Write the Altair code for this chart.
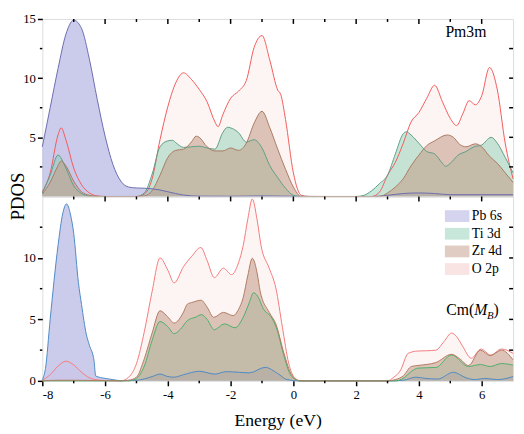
import altair as alt
import pandas as pd

SERIES = ["Pb 6s", "Ti 3d", "Zr 4d", "O 2p"]
FILLS = ["#a9a9e0", "#8fd0b6", "#c29a85", "#f6c8c8"]
FILL_OP = {"Pb 6s": 0.6, "Ti 3d": 0.5, "Zr 4d": 0.55, "O 2p": 0.2}

# ---------------- top panel (Pm3m) ----------------
top_pb_e = [-8.0, -7.75, -7.5, -7.25, -7.0, -6.75, -6.5, -6.25, -6.0, -5.75, -5.5, -5.25, -5.0, -4.75, -4.5,
            -4.25, -4.0, -3.75, -3.5, -3.0, -2.0, -1.0, 0.0, 1.0, 2.5, 3.0, 3.5, 4.0, 4.5, 5.0, 6.0, 7.0]
top_pb_v = [4.2, 7.5, 10.8, 13.7, 14.9, 14.2, 11.6, 8.2, 5.1, 2.7, 1.3, 0.8, 0.72, 0.7, 0.65,
            0.55, 0.4, 0.25, 0.12, 0.03, 0.02, 0.05, 0.02, 0.0, 0.0, 0.1, 0.25, 0.3, 0.25, 0.15, 0.15, 0.15]

top_ti_e = [-8.0, -7.75, -7.5, -7.25, -7.0, -6.75, -6.5, -6.0, -5.0, -4.75, -4.5, -4.25, -4.0, -3.85, -3.75,
            -3.5, -3.25, -3.0, -2.75, -2.5, -2.25, -2.1, -2.0, -1.75, -1.5, -1.25, -1.0, -0.75, -0.5, -0.25,
            0.0, 0.25, 2.0, 2.25, 2.5, 2.75, 3.0, 3.25, 3.5, 3.6, 3.75, 4.0, 4.25, 4.5, 4.75, 4.85, 5.0,
            5.25, 5.5, 5.75, 6.0, 6.3, 6.5, 6.75, 7.0]
top_ti_v = [0.3, 1.8, 3.5, 2.4, 0.9, 0.25, 0.03, 0.0, 0.0, 0.3, 1.9, 4.2, 4.7, 4.75, 4.55,
            4.15, 4.2, 4.25, 4.1, 4.0, 5.4, 5.85, 5.8, 5.4, 4.6, 4.8, 4.1, 2.6, 1.6, 0.7,
            0.1, 0.0, 0.0, 0.1, 0.5, 1.1, 1.8, 3.6, 5.3, 5.47, 5.2, 4.5, 3.8, 3.6, 2.8, 2.55, 2.8,
            3.5, 3.8, 4.2, 4.35, 5.0, 4.5, 3.3, 2.0]

top_zr_e = [-8.0, -7.75, -7.5, -7.4, -7.25, -7.0, -6.75, -6.5, -6.25, -5.0, -4.75, -4.5, -4.25, -4.0, -3.75,
            -3.5, -3.25, -3.1, -3.0, -2.75, -2.5, -2.25, -2.0, -1.75, -1.5, -1.25, -1.0, -0.75, -0.5, -0.25,
            0.0, 0.25, 2.75, 3.0, 3.25, 3.5, 3.75, 4.0, 4.25, 4.5, 4.9, 5.1, 5.3, 5.5, 5.8, 6.0, 6.25,
            6.5, 6.75, 7.0]
top_zr_v = [0.2, 1.2, 2.6, 3.0, 2.6, 1.3, 0.4, 0.1, 0.0, 0.0, 0.05, 0.5, 1.8, 3.3, 3.9,
            4.0, 4.6, 5.1, 5.0, 4.2, 3.85, 3.85, 4.1, 3.9, 4.5, 6.2, 7.2, 5.8, 4.0, 2.3,
            0.8, 0.0, 0.0, 0.3, 0.8, 1.5, 2.6, 3.5, 4.3, 4.7, 5.2, 5.0, 4.4, 4.2, 4.45, 4.2, 3.4,
            2.8, 2.0, 1.2]

top_o_e = [-8.0, -7.75, -7.5, -7.4, -7.25, -7.0, -6.75, -6.5, -6.25, -6.0, -5.0, -4.75, -4.5, -4.25, -4.0,
           -3.75, -3.5, -3.25, -3.0, -2.75, -2.5, -2.4, -2.25, -2.0, -1.75, -1.5, -1.25, -1.0, -0.75, -0.5,
           -0.4, -0.25, 0.0, 0.25, 0.5, 2.5, 2.75, 3.0, 3.25, 3.5, 3.75, 4.0, 4.25, 4.5, 4.75, 5.0, 5.2,
           5.4, 5.6, 5.8, 6.0, 6.25, 6.5, 6.75, 7.0]
top_o_v = [0.4, 2.0, 5.2, 5.8, 4.8, 2.4, 1.0, 0.3, 0.05, 0.0, 0.0, 0.2, 1.5, 4.8, 7.6,
           9.6, 10.45, 9.9, 9.05, 8.0, 6.3, 5.9, 6.9, 8.3, 8.9, 9.8, 12.6, 13.6, 11.5, 9.0,
           8.6, 6.5, 2.0, 0.1, 0.0, 0.0, 0.4, 1.8, 2.9, 4.5, 6.3, 7.1, 8.3, 9.4, 8.0, 6.6, 6.0,
           7.0, 8.1, 7.75, 8.5, 10.9, 9.0, 4.5, 1.5]

# ---------------- bottom panel (Cm(MB)) ----------------
bot_pb_e = [-8.0, -7.9, -7.75, -7.5, -7.35, -7.23, -7.1, -7.0, -6.85, -6.75, -6.6, -6.5, -6.35, -6.3, -6.0,
            -5.75, -5.5, -5.0, -4.5, -4.25, -4.0, -3.8, -3.5, -3.0, -2.5, -2.15, -1.75, -1.4, -0.9, -0.5,
            -0.2, 0.2, 3.0, 3.5, 3.9, 4.2, 4.6, 5.1, 5.5, 5.8, 6.1, 6.5, 7.0]
bot_pb_v = [0.1, 1.0, 5.0, 11.0, 13.6, 14.4, 13.5, 12.0, 8.0, 6.2, 3.8, 2.9, 1.6, 0.4, 0.2,
            0.1, 0.02, 0.05, 0.35, 0.55, 0.35, 0.3, 0.5, 0.78, 0.55, 0.75, 0.7, 0.65, 1.1, 0.6,
            0.1, 0.0, 0.0, 0.05, 0.3, 0.2, 0.15, 0.7, 0.25, 0.1, 0.2, 0.1, 0.35]

bot_ti_e = [-8.0, -5.25, -5.0, -4.75, -4.5, -4.25, -4.0, -3.8, -3.6, -3.38, -3.1, -2.93, -2.75, -2.52, -2.2,
            -1.86, -1.6, -1.4, -1.27, -1.1, -0.98, -0.67, -0.5, -0.35, -0.06, 0.2, 3.25, 3.5, 3.76, 3.97,
            4.54, 5.04, 5.58, 5.96, 6.27, 6.63, 7.0]
bot_ti_v = [0.0, 0.0, 0.2, 1.2, 3.3, 4.83, 4.4, 3.84, 4.2, 4.9, 5.2, 5.39, 5.0, 4.16, 4.64,
            4.32, 5.17, 6.4, 7.17, 6.7, 5.97, 5.04, 4.0, 2.5, 0.37, 0.0, 0.0, 0.2, 0.77, 1.04,
            1.09, 2.11, 1.17, 1.33, 1.17, 1.41, 1.28]

bot_zr_e = [-8.0, -7.5, -7.0, -5.5, -5.25, -5.0, -4.75, -4.5, -4.25, -4.0, -3.8, -3.5, -3.38, -3.2, -2.94,
            -2.75, -2.54, -2.23, -1.92, -1.75, -1.6, -1.45, -1.31, -1.15, -1.06, -0.77, -0.56, -0.3, -0.06, 0.2,
            3.0, 3.25, 3.5, 3.76, 3.97, 4.54, 5.04, 5.3, 5.58, 5.96, 6.27, 6.63, 7.0]
bot_zr_v = [0.0, 0.05, 0.05, 0.0, 0.05, 0.3, 1.8, 3.9, 5.7, 5.2, 4.7, 5.6, 6.24, 6.4, 6.56,
            6.0, 5.17, 5.57, 5.31, 5.8, 6.77, 8.6, 9.97, 8.7, 7.3, 5.57, 4.64, 2.24, 0.5, 0.0,
            0.0, 0.1, 0.4, 1.17, 1.25, 1.49, 2.16, 1.8, 1.25, 2.5, 2.05, 2.5, 1.71]

bot_o_e = [-8.0, -7.75, -7.5, -7.25, -7.0, -6.75, -6.5, -6.25, -6.0, -5.5, -5.25, -5.0, -4.75, -4.5, -4.25,
           -4.0, -3.8, -3.5, -3.25, -2.95, -2.75, -2.52, -2.23, -1.97, -1.75, -1.6, -1.45, -1.31, -1.15, -1.03,
           -0.77, -0.56, -0.35, -0.15, 0.06, 0.25, 3.0, 3.2, 3.4, 3.66, 3.97, 4.25, 4.54, 4.8, 5.04, 5.2,
           5.375, 5.67, 5.98, 6.29, 6.63, 7.0]
bot_o_v = [0.05, 0.5, 1.2, 1.6, 1.3, 0.7, 0.25, 0.08, 0.03, 0.0, 0.3, 1.4, 4.0, 7.3, 10.0,
           9.0, 7.97, 9.3, 10.1, 10.85, 9.8, 8.4, 9.17, 8.64, 9.6, 11.0, 13.2, 14.8, 13.0, 11.0,
           9.17, 7.57, 4.37, 1.44, 0.2, 0.0, 0.0, 0.3, 0.8, 2.24, 2.43, 2.45, 2.5, 3.2, 3.89, 3.6,
           2.9, 1.84, 2.59, 2.1, 2.59, 2.24]

# ---------------- axes / ticks ----------------
x_major = [-8, -6, -4, -2, 0, 2, 4, 6]
x_minor = [-7, -5, -3, -1, 1, 3, 5]
y_major_top = [5, 10, 15]
y_major_bot = [0, 5, 10]
y_minor = [2.5, 7.5, 12.5]
y_inner = [2.5, 5, 7.5, 10, 12.5]

TOP_STROKE = {"Pb 6s": "#6b6bb0", "Ti 3d": "#5e9e86", "Zr 4d": "#a97a62", "O 2p": "#f25a5a"}
BOT_STROKE = {"Pb 6s": "#4d8ac4", "Ti 3d": "#4caf6a", "Zr 4d": "#b07a62", "O 2p": "#f47a7a"}

W = 480
H_TOP, H_BOT = 181, 188
FONT = "Liberation Serif"


def long_df(parts):
    rows = []
    for name, es, vs in parts:
        for e, v in zip(es, vs):
            rows.append({"series": name, "E": e, "v": v})
    return pd.DataFrame(rows)


top_df = long_df([("Pb 6s", top_pb_e, top_pb_v), ("Ti 3d", top_ti_e, top_ti_v),
                  ("Zr 4d", top_zr_e, top_zr_v), ("O 2p", top_o_e, top_o_v)])
bot_df = long_df([("Pb 6s", bot_pb_e, bot_pb_v), ("Ti 3d", bot_ti_e, bot_ti_v),
                  ("Zr 4d", bot_zr_e, bot_zr_v), ("O 2p", bot_o_e, bot_o_v)])

xscale = alt.Scale(domain=[-8, 7], nice=False, zero=False)
yscale = alt.Scale(domain=[0, 15], nice=False, zero=False)
label_expr = "datum.value < 0 ? '-' + abs(datum.value) : '' + datum.value"


def make_panel(df, order, strokes, yvals, bottom, legend, H):
    if bottom:
        xaxis = alt.Axis(values=x_major, title="Energy (eV)", labelExpr=label_expr, grid=False,
                         domain=False, tickSize=5, tickWidth=1.5, tickColor="black",
                         labelFont=FONT, labelFontSize=13, labelColor="black", labelPadding=3,
                         titleFont=FONT, titleFontSize=18, titleFontWeight="normal",
                         titleColor="black", titlePadding=11)
    else:
        xaxis = alt.Axis(labels=False, ticks=False, domain=False, grid=False, title=None)
    yaxis = alt.Axis(values=yvals, title=None, grid=False, domain=False, tickSize=5,
                     tickWidth=1.5, tickColor="black", labelFont=FONT, labelFontSize=13,
                     labelColor="black", labelPadding=2)
    X = alt.X("E:Q", scale=xscale, axis=xaxis)
    Y = alt.Y("v:Q", scale=yscale, axis=yaxis)
    layers = []
    for s in order:
        base = alt.Chart(df).transform_filter(alt.datum.series == s)
        layers.append(base.mark_area(interpolate="monotone", opacity=FILL_OP[s]).encode(
            x=X, y=Y,
            fill=alt.Fill("series:N", scale=alt.Scale(domain=SERIES, range=FILLS), legend=legend)))
    for s in order:
        base = alt.Chart(df).transform_filter(alt.datum.series == s)
        layers.append(base.mark_line(interpolate="monotone", color=strokes[s], strokeWidth=1).encode(
            x=X, y=Y))
    # tick decorations (mirror ticks inside, minor ticks outside)
    xt_major = pd.DataFrame({"t": x_major[1:]})
    xt_minor = pd.DataFrame({"t": x_minor})
    yt_inner = pd.DataFrame({"t": y_inner})
    yt_minor = pd.DataFrame({"t": y_minor})
    XT = alt.X("t:Q", scale=xscale, axis=xaxis)
    YT = alt.Y("t:Q", scale=yscale, axis=yaxis)
    layers.append(alt.Chart(xt_major).mark_rule(color="black", strokeWidth=1.5).encode(
        x=XT, y=alt.value(0), y2=alt.value(5)))
    layers.append(alt.Chart(xt_minor).mark_rule(color="black", strokeWidth=1.5).encode(
        x=XT, y=alt.value(0), y2=alt.value(3)))
    layers.append(alt.Chart(yt_inner).mark_rule(color="black", strokeWidth=1.5).encode(
        y=YT, x=alt.value(W), x2=alt.value(W - 4)))
    layers.append(alt.Chart(yt_minor).mark_rule(color="black", strokeWidth=1.5).encode(
        y=YT, x=alt.value(0), x2=alt.value(-2.5)))
    if bottom:
        layers.append(alt.Chart(xt_minor).mark_rule(color="black", strokeWidth=1.5).encode(
            x=XT, y=alt.value(H), y2=alt.value(H + 2.5)))
    return alt.layer(*layers).properties(width=W, height=H)


top = make_panel(top_df, ["O 2p", "Pb 6s", "Ti 3d", "Zr 4d"], TOP_STROKE, y_major_top, False, None, H_TOP)
bot_legend = alt.Legend(orient="none", legendX=416, legendY=13, title=None,
                        symbolType="M-2,-0.96H2V0.96H-2Z", symbolSize=156, symbolOpacity=0.5,
                        symbolStrokeWidth=0, labelFont=FONT, labelFontSize=14, labelColor="black",
                        labelOffset=8, rowPadding=4, padding=0, labelLimit=200)
bot = make_panel(bot_df, ["O 2p", "Pb 6s", "Ti 3d", "Zr 4d"], BOT_STROKE, y_major_bot, True, bot_legend, H_BOT)

# annotations
lab_df = pd.DataFrame({"t": ["Pm3m"]})
top = top + alt.Chart(lab_df).mark_text(font=FONT, fontSize=16, align="left", baseline="alphabetic",
                                         color="black").encode(text="t:N", x=alt.value(411), y=alt.value(18))
pdos_df = pd.DataFrame({"t": ["PDOS"]})
top = top + alt.Chart(pdos_df).mark_text(font=FONT, fontSize=19, align="center", baseline="top",
                                          angle=270, color="black").encode(
    text="t:N", x=alt.value(-34), y=alt.value(H_TOP))

cm_parts = [("Cm(", 412, 121, 16, "normal"), ("M", 440.5, 121, 16, "italic"),
            ("B", 453.5, 125, 11, "italic"), (")", 460, 121, 16, "normal")]
for txt, px, py, fs, st in cm_parts:
    bot = bot + alt.Chart(pd.DataFrame({"t": [txt]})).mark_text(
        font=FONT, fontSize=fs, fontStyle=st, align="left", baseline="alphabetic", color="black"
    ).encode(text="t:N", x=alt.value(px), y=alt.value(py))

chart = alt.vconcat(top, bot, spacing=0, bounds="flush").resolve_legend(fill="independent").configure_view(
    stroke="black", strokeWidth=1.8).configure(padding={"left": 0, "top": 0, "right": 0, "bottom": 0})

chart.save("out.html", embed_options={"renderer": "svg", "actions": False})
